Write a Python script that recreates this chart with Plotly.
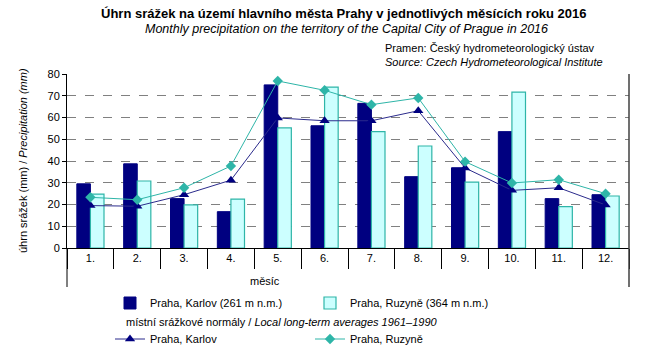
import plotly.graph_objects as go

months = ["1.", "2.", "3.", "4.", "5.", "6.", "7.", "8.", "9.", "10.", "11.", "12."]
karlov_2016 = [29.5, 38.7, 22.7, 16.7, 75.0, 56.2, 66.5, 32.8, 36.9, 53.5, 22.7, 24.5]
ruzyne_2016 = [24.8, 30.8, 19.8, 22.5, 55.2, 74.0, 53.5, 46.9, 30.3, 71.7, 19.0, 23.9]
karlov_normal = [19.5, 19.2, 24.5, 31.2, 59.8, 58.5, 58.5, 63.1, 36.8, 26.5, 27.7, 19.8]
ruzyne_normal = [23.3, 22.2, 27.7, 37.7, 76.8, 72.5, 65.9, 69.0, 39.7, 29.9, 31.4, 25.0]

NAVY = "#000080"
TEAL = "#2EB5A8"
CYAN = "#CCFFFF"
FONT = "Liberation Sans, Arial, sans-serif"

fig = go.Figure()
fig.add_trace(go.Bar(x=months, y=karlov_2016, name="Praha, Karlov (261 m n.m.)",
                     marker=dict(color=NAVY, line=dict(color=NAVY, width=1)), legend="legend"))
fig.add_trace(go.Bar(x=months, y=ruzyne_2016, name="Praha, Ruzyně (364 m n.m.)",
                     marker=dict(color=CYAN, line=dict(color=TEAL, width=1.2)), legend="legend"))
fig.add_trace(go.Scatter(x=months, y=karlov_normal, name="Praha, Karlov", mode="lines+markers",
                         line=dict(color="#2B2B8C", width=1),
                         marker=dict(symbol="triangle-up", size=9, color=NAVY), legend="legend2"))
fig.add_trace(go.Scatter(x=months, y=ruzyne_normal, name="Praha, Ruzyně", mode="lines+markers",
                         line=dict(color=TEAL, width=1),
                         marker=dict(symbol="diamond", size=8, color=TEAL), legend="legend2"))

L, R, T, B = 67, 16, 74, 112
W, H = 645, 360
pw = W - L - R
ph = H - T - B

def px_x(x):
    return (x - L) / pw

def px_y(y):
    return (H - B - y) / ph

fig.update_layout(
    width=W, height=H,
    margin=dict(l=L, r=R, t=T, b=B, autoexpand=False),
    paper_bgcolor="white", plot_bgcolor="white",
    font=dict(family=FONT, size=11, color="black"),
    barmode="group", bargap=0.42, bargroupgap=0.0,
    showlegend=True,
    legend=dict(orientation="h", x=px_x(110), y=px_y(303), xanchor="left", yanchor="middle",
                entrywidth=155, entrywidthmode="pixels", font=dict(size=11, family=FONT),
                bgcolor="rgba(0,0,0,0)", itemwidth=30),
    legend2=dict(orientation="h", x=px_x(110), y=px_y(339), xanchor="left", yanchor="middle",
                 entrywidth=155, entrywidthmode="pixels", font=dict(size=11, family=FONT),
                 bgcolor="rgba(0,0,0,0)", itemwidth=30),
)

fig.update_xaxes(type="category", range=[-0.5, len(months) - 0.5],
                 showline=True, linecolor="black", linewidth=1,
                 ticks="outside", tickson="boundaries", ticklen=20, tickcolor="black",
                 tickfont=dict(size=11, family=FONT), showgrid=False, mirror=False,
                 automargin=False)
fig.update_yaxes(range=[0, 80], dtick=10, showline=True, linecolor="black", linewidth=1,
                 ticks="outside", ticklen=4, tickcolor="black",
                 tickfont=dict(size=11, family=FONT),
                 showgrid=True, gridcolor="#808080", griddash="dash", gridwidth=1,
                 zeroline=False, automargin=False)

# frame lines extending below axis, and right border
fig.add_shape(type="line", xref="paper", yref="paper", x0=0, x1=0, y0=px_y(287), y1=0,
              line=dict(color="black", width=1))
fig.add_shape(type="line", xref="paper", yref="paper", x0=1, x1=1, y0=px_y(287), y1=1,
              line=dict(color="#404040", width=1.5))

annotations = [
    dict(text="<b>Úhrn srážek na území hlavního města Prahy v jednotlivých měsících roku 2016</b>",
         x=344, y=14, font=dict(size=13)),
    dict(text="<i>Monthly precipitation on the territory of the Capital City of Prague in 2016</i>",
         x=346, y=29, font=dict(size=12.5)),
    dict(text="Pramen: Český hydrometeorologický ústav", x=383, y=48, xanchor="left", font=dict(size=11)),
    dict(text="<i>Source: Czech Hydrometeorological Institute</i>", x=383, y=62, xanchor="left",
         font=dict(size=11)),
    dict(text="měsíc", x=265, y=281, font=dict(size=11)),
    dict(text="místní srážkové normály / <i>Local long-term averages 1961–1990</i>", x=124, y=322,
         xanchor="left", font=dict(size=11)),
]
for a in annotations:
    fig.add_annotation(text=a["text"], xref="paper", yref="paper", x=px_x(a["x"]), y=px_y(a["y"]),
                       xanchor=a.get("xanchor", "center"), yanchor="middle", showarrow=False,
                       font=dict(family=FONT, color="black", **a["font"]))

fig.add_annotation(text="úhrn srážek (mm) / <i>Precipitation (mm)</i>", xref="paper", yref="paper",
                   x=px_x(23), y=0.5, textangle=-90, xanchor="center", yanchor="middle",
                   showarrow=False, font=dict(family=FONT, size=11, color="black"))

fig.write_html("out.html", post_script="document.body.style.margin='0';",
               config={"displayModeBar": False})
